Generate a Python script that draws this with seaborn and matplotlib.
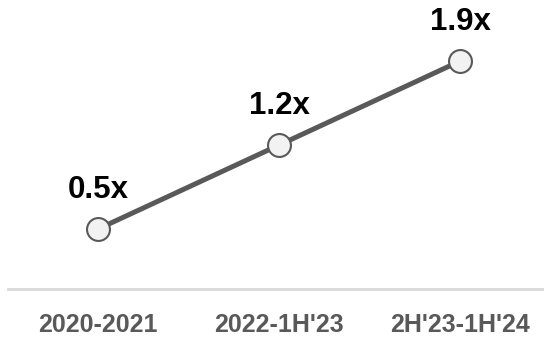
import matplotlib
matplotlib.use("Agg")
import matplotlib.pyplot as plt
import seaborn as sns
import pandas as pd

periods = ["2020-2021", "2022-1H'23", "2H'23-1H'24"]
multiples = [0.5, 1.2, 1.9]
value_labels = ["0.5x", "1.2x", "1.9x"]

sns.set_theme(style="white")
plt.rcParams["font.family"] = ["Liberation Sans", "DejaVu Sans"]

df = pd.DataFrame({"period": periods, "multiple": multiples})

fig = plt.figure(figsize=(5.44, 3.38), dpi=100)
ax = fig.add_axes([0.0147, 0.145, 0.9853, 0.855])

sns.lineplot(
    data=df, x="period", y="multiple", ax=ax,
    color="#595959", linewidth=3.6,
    marker="o", markersize=16.5,
    markerfacecolor="#f2f2f2", markeredgecolor="#595959", markeredgewidth=1.5,
)

for i, (v, lab) in enumerate(zip(multiples, value_labels)):
    ax.annotate(lab, (i, v), xytext=(0, 28), textcoords="offset points",
                ha="center", va="center", fontsize=22.5, fontweight="bold",
                color="black")

ax.set_xlim(-0.497, 2.464)
ax.set_ylim(0, 2.41)
ax.set_xlabel("")
ax.set_ylabel("")
ax.set_yticks([])

for side in ["left", "right", "top"]:
    ax.spines[side].set_visible(False)
ax.spines["bottom"].set_color("#d9d9d9")
ax.spines["bottom"].set_linewidth(2)

ax.tick_params(axis="x", length=0, pad=17, labelsize=18, labelcolor="#595959")
for t in ax.get_xticklabels():
    t.set_fontweight("bold")

fig.savefig("out.png", dpi=100)
